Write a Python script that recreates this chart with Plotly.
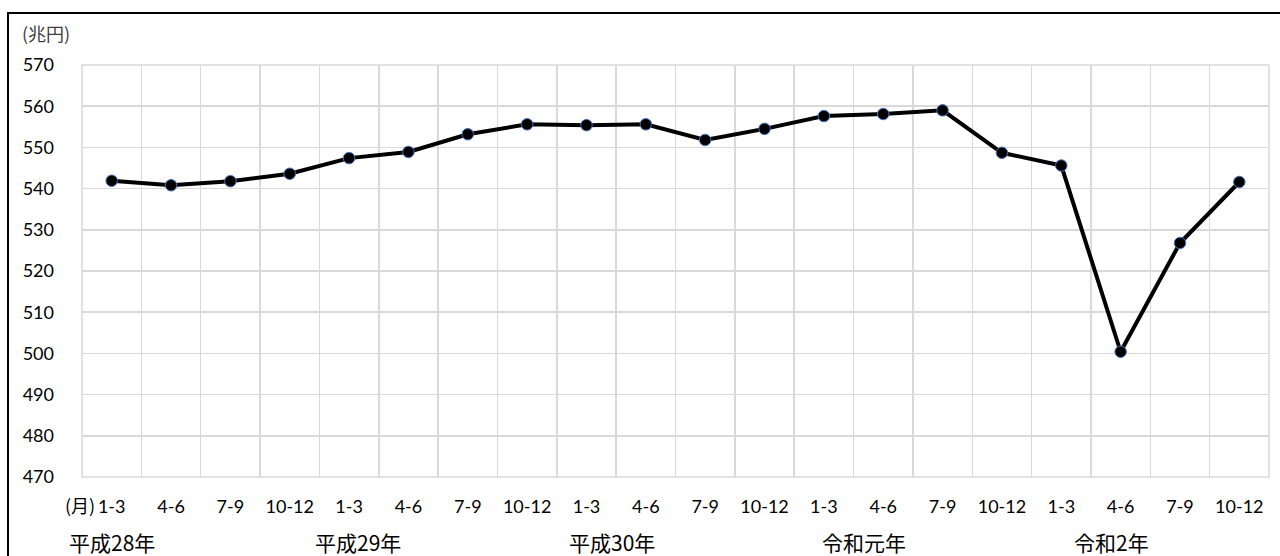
import plotly.graph_objects as go

# ---- data ----
quarters = ["1-3", "4-6", "7-9", "10-12",
            "1-3", "4-6", "7-9", "10-12",
            "1-3", "4-6", "7-9", "10-12",
            "1-3", "4-6", "7-9", "10-12",
            "1-3", "4-6", "7-9", "10-12"]
values = [541.9, 540.8, 541.8, 543.6,
          547.4, 548.9, 553.2, 555.6,
          555.4, 555.6, 551.8, 554.5,
          557.6, 558.1, 559.0, 548.7,
          545.6, 500.4, 526.8, 541.6]
years = ["平成28年", "平成29年", "平成30年", "令和元年", "令和2年"]
y_ticks = [470, 480, 490, 500, 510, 520, 530, 540, 550, 560, 570]

# ---- layout helpers (positions / styles) ----
x_idx = list(range(1, len(values) + 1))
year_label_x = [1.0, 5.15, 9.43, 13.68, 17.85]

NUM_FONT = "Lato, 'Noto Sans CJK JP', sans-serif"
CJK_FONT = "'Noto Sans CJK JP', sans-serif"
GRID = "#d9d9d9"

fig = go.Figure()
fig.add_trace(go.Scatter(
    x=x_idx, y=values, mode="lines+markers",
    line=dict(color="black", width=4),
    marker=dict(size=11.5, color="black", line=dict(color="#4472C4", width=1)),
    hoverinfo="skip", showlegend=False,
))

fig.update_layout(
    width=1280, height=556,
    margin=dict(l=82, r=11, t=65, b=79),
    paper_bgcolor="white", plot_bgcolor="white",
    xaxis=dict(
        range=[0.5, len(values) + 0.5],
        tickmode="array", tickvals=x_idx, ticktext=quarters,
        showgrid=False, zeroline=False, showline=False, ticks="",
        tickfont=dict(family=NUM_FONT, size=18, color="black"),
        ticklabelstandoff=17,
        minor=dict(tickmode="linear", tick0=0.5, dtick=1, showgrid=True,
                   gridcolor=GRID, gridwidth=1.5, ticks=""),
        fixedrange=True,
    ),
    yaxis=dict(
        range=[470, 570], tickmode="array", tickvals=y_ticks,
        showgrid=True, gridcolor=GRID, gridwidth=1.5,
        zeroline=False, showline=False, ticks="",
        tickfont=dict(family=NUM_FONT, size=18, color="black"),
        ticklabelstandoff=27,
        fixedrange=True,
    ),
)

# plot-area frame (edge gridlines)
fig.add_shape(type="rect", xref="paper", yref="paper", x0=0, x1=1, y0=0, y1=1,
              line=dict(color=GRID, width=1.5), fillcolor="rgba(0,0,0,0)",
              layer="below")

# outer border
fig.add_shape(type="rect", xref="paper", yref="paper",
              x0=(8 - 82) / 1187, x1=(1290 - 82) / 1187,
              y0=(477 - 600) / 412, y1=(477 - 13) / 412,
              line=dict(color="black", width=2), fillcolor="rgba(0,0,0,0)",
              layer="below")

# unit label
fig.add_annotation(text="(兆円)", xref="paper", yref="paper",
                   x=(20 - 82) / 1187, y=(477 - 33) / 412,
                   xanchor="left", yanchor="middle", showarrow=False,
                   font=dict(family=CJK_FONT, size=18, color="#404040"))
# month label
fig.add_annotation(text="(月)", xref="paper", yref="paper",
                   x=(97 - 82) / 1187, y=(477 - 505) / 412,
                   xanchor="right", yanchor="middle", showarrow=False,
                   font=dict(family=CJK_FONT, size=18, color="black"))
# year labels
for yr, xp in zip(years, year_label_x):
    fig.add_annotation(text=yr, x=xp, xref="x", yref="paper",
                       y=(477 - 542) / 412, xanchor="center", yanchor="middle",
                       showarrow=False,
                       font=dict(family=CJK_FONT, size=21, color="black"))

fig.write_html("out.html",
               config={"displayModeBar": False, "staticPlot": True},
               post_script="document.body.style.margin='0px';document.body.style.overflow='hidden';")
